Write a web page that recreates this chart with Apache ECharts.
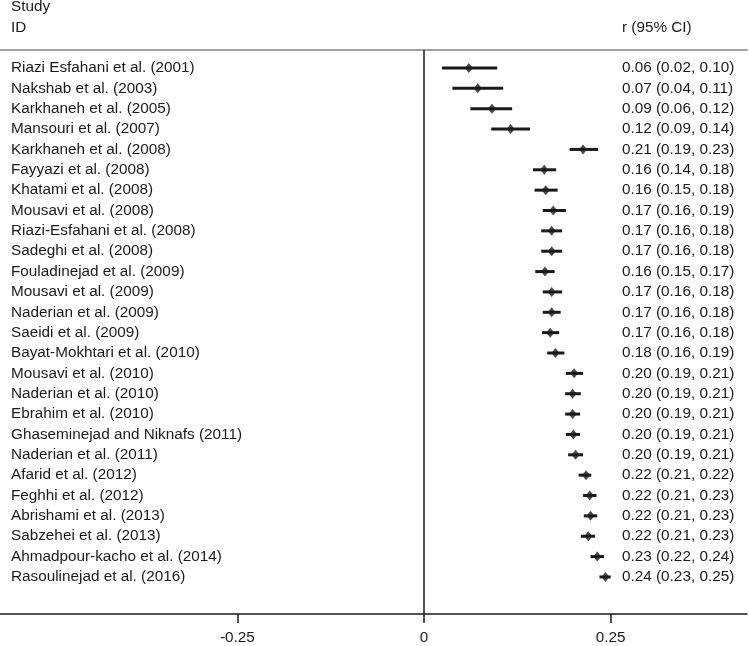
<!DOCTYPE html>
<html>
<head>
<meta charset="utf-8">
<script src="https://cdn.jsdelivr.net/npm/echarts@6/dist/echarts.min.js"></script>
<style>
  html, body { margin: 0; padding: 0; background: #fff; }
  #chart { width: 749px; height: 646px; }
</style>
</head>
<body>
<div id="chart"></div>
<script>
// forest plot data
const studies = [
  'Riazi Esfahani et al. (2001)', 'Nakshab et al. (2003)', 'Karkhaneh et al. (2005)',
  'Mansouri et al. (2007)', 'Karkhaneh et al. (2008)', 'Fayyazi et al. (2008)',
  'Khatami et al. (2008)', 'Mousavi et al. (2008)', 'Riazi-Esfahani et al. (2008)',
  'Sadeghi et al. (2008)', 'Fouladinejad et al. (2009)', 'Mousavi et al. (2009)',
  'Naderian et al. (2009)', 'Saeidi et al. (2009)', 'Bayat-Mokhtari et al. (2010)',
  'Mousavi et al. (2010)', 'Naderian et al. (2010)', 'Ebrahim et al. (2010)',
  'Ghaseminejad and Niknafs (2011)', 'Naderian et al. (2011)', 'Afarid et al. (2012)',
  'Feghhi et al. (2012)', 'Abrishami et al. (2013)', 'Sabzehei et al. (2013)',
  'Ahmadpour-kacho et al. (2014)', 'Rasoulinejad et al. (2016)'
];
const estimates = [0.060, 0.072, 0.091, 0.116, 0.213, 0.161, 0.163, 0.173, 0.171, 0.171,
  0.162, 0.171, 0.171, 0.169, 0.176, 0.201, 0.199, 0.199, 0.200, 0.203,
  0.217, 0.222, 0.223, 0.220, 0.232, 0.243];
const lower = [0.024, 0.038, 0.062, 0.090, 0.195, 0.146, 0.148, 0.159, 0.157, 0.157,
  0.149, 0.159, 0.159, 0.158, 0.165, 0.190, 0.189, 0.189, 0.190, 0.193,
  0.207, 0.213, 0.214, 0.210, 0.223, 0.235];
const upper = [0.098, 0.106, 0.118, 0.142, 0.233, 0.177, 0.179, 0.190, 0.185, 0.185,
  0.175, 0.185, 0.183, 0.181, 0.188, 0.213, 0.210, 0.209, 0.209, 0.213,
  0.224, 0.231, 0.232, 0.229, 0.241, 0.250];
const ciText = [
  '0.06 (0.02, 0.10)', '0.07 (0.04, 0.11)', '0.09 (0.06, 0.12)', '0.12 (0.09, 0.14)',
  '0.21 (0.19, 0.23)', '0.16 (0.14, 0.18)', '0.16 (0.15, 0.18)', '0.17 (0.16, 0.19)',
  '0.17 (0.16, 0.18)', '0.17 (0.16, 0.18)', '0.16 (0.15, 0.17)', '0.17 (0.16, 0.18)',
  '0.17 (0.16, 0.18)', '0.17 (0.16, 0.18)', '0.18 (0.16, 0.19)', '0.20 (0.19, 0.21)',
  '0.20 (0.19, 0.21)', '0.20 (0.19, 0.21)', '0.20 (0.19, 0.21)', '0.20 (0.19, 0.21)',
  '0.22 (0.21, 0.22)', '0.22 (0.21, 0.23)', '0.22 (0.21, 0.23)', '0.22 (0.21, 0.23)',
  '0.23 (0.22, 0.24)', '0.24 (0.23, 0.25)'
];
const xTicks = [-0.25, 0, 0.25];

const FONT = '"Liberation Sans", Arial, sans-serif';
const INK = '#1a1a1a';
const TXT = '15.3px ' + FONT;

const chart = echarts.init(document.getElementById('chart'), null, { renderer: 'canvas' });

const option = {
  animation: false,
  backgroundColor: '#fff',
  textStyle: { fontFamily: FONT, color: INK },
  grid: { left: 0, right: 2, top: 50, bottom: 32, containLabel: false },
  graphic: [
    { type: 'text', left: 11, top: -1, style: { text: 'Study', font: TXT, fill: INK } },
    { type: 'text', left: 11, top: 20, style: { text: 'ID', font: TXT, fill: INK } },
    { type: 'text', left: 622, top: 20, style: { text: 'r (95% CI)', font: TXT, fill: INK } }
  ],
  xAxis: [
    {
      type: 'value',
      min: -0.568,
      max: 0.4326,
      splitLine: { show: false },
      axisLine: { show: true, onZero: false, lineStyle: { color: INK, width: 1.5 } },
      axisTick: { show: true, length: 9, lineStyle: { color: INK, width: 1.5 }, customValues: xTicks },
      axisLabel: {
        fontSize: 15.3,
        fontFamily: FONT,
        color: INK,
        margin: 16,
        customValues: xTicks,
        formatter: (v) => (v === 0 ? '0' : String(v))
      }
    },
    {
      type: 'value',
      position: 'top',
      min: -0.568,
      max: 0.4326,
      splitLine: { show: false },
      axisLine: { show: true, onZero: false, lineStyle: { color: '#a0a0a0', width: 2 } },
      axisTick: { show: false },
      axisLabel: { show: false }
    }
  ],
  yAxis: {
    type: 'value',
    inverse: true,
    min: -0.884,
    max: 26.82,
    show: false
  },
  series: [
    {
      type: 'custom',
      clip: false,
      data: studies.map((s, i) => [lower[i], upper[i], i]),
      encode: { x: [0, 1], y: 2 },
      renderItem: (params, api) => {
        const i = api.value(2);
        const a = api.coord([api.value(0), i]);
        const b = api.coord([api.value(1), i]);
        return {
          type: 'group',
          children: [
            {
              type: 'line',
              shape: { x1: a[0], y1: a[1], x2: b[0], y2: b[1] },
              style: { stroke: INK, lineWidth: 3 }
            },
            {
              type: 'text',
              x: 11,
              y: a[1],
              style: { text: studies[i], font: TXT, fill: INK, verticalAlign: 'middle' }
            },
            {
              type: 'text',
              x: 622,
              y: a[1],
              style: { text: ciText[i], font: TXT, fill: INK, verticalAlign: 'middle' }
            }
          ]
        };
      }
    },
    {
      type: 'scatter',
      symbol: 'diamond',
      symbolSize: [8, 10],
      itemStyle: { color: INK },
      data: estimates.map((v, i) => [v, i]),
      z: 3,
      markLine: {
        silent: true,
        symbol: 'none',
        label: { show: false },
        lineStyle: { color: INK, width: 1.5, type: 'solid' },
        data: [{ xAxis: 0 }]
      }
    }
  ]
};

chart.setOption(option);
</script>
</body>
</html>
